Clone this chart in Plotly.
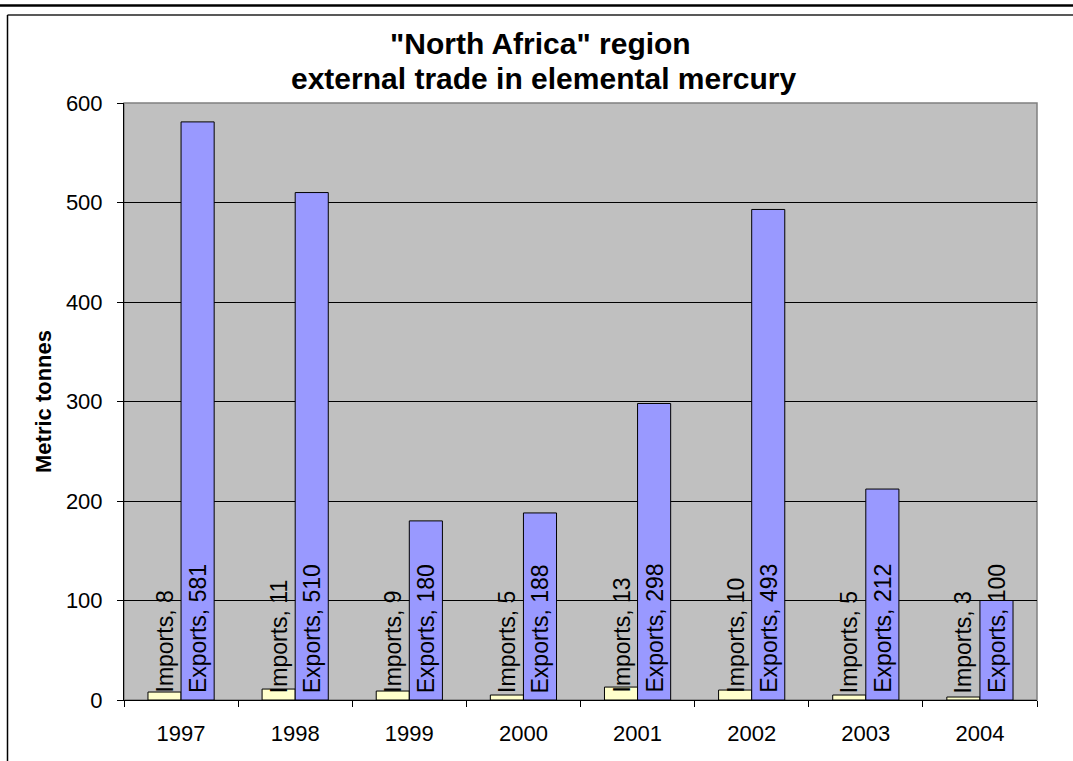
import plotly.graph_objects as go

years = ["1997", "1998", "1999", "2000", "2001", "2002", "2003", "2004"]
imports = [8, 11, 9, 5, 13, 10, 5, 3]
exports = [581, 510, 180, 188, 298, 493, 212, 100]
y_ticks = [0, 100, 200, 300, 400, 500, 600]

FONT = "Arial, Liberation Sans, sans-serif"
W, H = 1073, 761
ML, MR, MT, MB = 124, 36, 103, 61
PW = W - ML - MR
PH = H - MT - MB

fig = go.Figure()
fig.add_trace(go.Bar(
    x=years, y=imports, name="Imports",
    marker=dict(color="#FFFFCC", line=dict(color="black", width=1)),
))
fig.add_trace(go.Bar(
    x=years, y=exports, name="Exports",
    marker=dict(color="#9999FF", line=dict(color="black", width=1)),
))

cat_w = PW / len(years)
bargap = 0.42
bar_w = cat_w * (1 - bargap) / 2

annotations = []
for i, (iv, ev) in enumerate(zip(imports, exports)):
    for name, val, sh in (("Imports", iv, -bar_w / 2), ("Exports", ev, bar_w / 2)):
        annotations.append(dict(
            x=i, y=0, xref="x", yref="y",
            text=f"{name}, {val}", textangle=-90,
            showarrow=False, xanchor="center", yanchor="bottom",
            xshift=sh, yshift=5,
            font=dict(family=FONT, size=23, color="black"),
        ))

def px_x(p):
    return (p - ML) / PW

def px_y(p):
    return (H - MB - p) / PH

annotations.append(dict(
    text='"North Africa" region', xref="paper", yref="paper",
    x=px_x(540), y=px_y(43), showarrow=False,
    xanchor="center", yanchor="middle",
    font=dict(family=FONT, size=30, color="black", weight="bold"),
))
annotations.append(dict(
    text="external trade in elemental mercury", xref="paper", yref="paper",
    x=px_x(544), y=px_y(78), showarrow=False,
    xanchor="center", yanchor="middle",
    font=dict(family=FONT, size=30, color="black", weight="bold"),
))

shapes = [
    dict(type="line", xref="paper", yref="paper", x0=px_x(0), x1=px_x(W),
         y0=px_y(5.5), y1=px_y(5.5), line=dict(color="black", width=2.5)),
    dict(type="line", xref="paper", yref="paper", x0=px_x(7.5), x1=px_x(W),
         y0=px_y(15), y1=px_y(15), line=dict(color="#222222", width=1.5)),
    dict(type="line", xref="paper", yref="paper", x0=px_x(7.5), x1=px_x(7.5),
         y0=px_y(15), y1=px_y(H), line=dict(color="black", width=1.5)),
    dict(type="rect", xref="paper", yref="paper", x0=0, x1=1, y0=0, y1=1,
         line=dict(color="#808080", width=1.5), layer="below"),
]

fig.update_layout(
    width=W, height=H,
    margin=dict(l=ML, r=MR, t=MT, b=MB, pad=0, autoexpand=False),
    paper_bgcolor="white", plot_bgcolor="#C0C0C0",
    barmode="group", bargap=bargap, bargroupgap=0,
    showlegend=False,
    font=dict(family=FONT, size=22, color="black"),
    annotations=annotations,
    shapes=shapes,
    xaxis=dict(
        type="category", range=[-0.5, 7.5], tickson="boundaries",
        ticks="outside", ticklen=6, tickangle=0, automargin=False,
        tickcolor="black", tickwidth=1, showline=True, linecolor="black",
        linewidth=1, showgrid=False, ticklabelstandoff=14,
        tickfont=dict(family=FONT, size=22, color="black"),
    ),
    yaxis=dict(
        range=[0, 600], tickvals=y_ticks, ticks="outside", ticklen=6,
        tickcolor="black", showline=True, linecolor="black", linewidth=1,
        showgrid=True, gridcolor="black", gridwidth=1, zeroline=False,
        ticklabelstandoff=10, automargin=False,
        tickfont=dict(family=FONT, size=22, color="black"),
        title=dict(text="<b>Metric tonnes</b>", standoff=8,
                   font=dict(family=FONT, size=22, color="black")),
    ),
)

fig.write_html("out.html", config={"displayModeBar": False},
               post_script="document.body.style.margin='0';")
